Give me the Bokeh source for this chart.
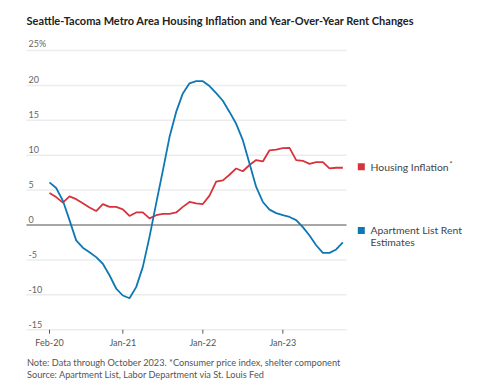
import pandas as pd
from bokeh.plotting import figure
from bokeh.models import Range1d
from bokeh.core.properties import value
from bokeh.embed import file_html
from bokeh.resources import INLINE

# ---- data ----
months = [d.strftime("%b-%y") for d in pd.date_range("2020-02-01", "2023-10-01", freq="MS")]
housing_inflation = [4.6, 4.0, 3.2, 4.1, 3.7, 3.1, 2.5, 2.0, 3.0, 2.6,
                     2.6, 2.25, 1.3, 1.8, 1.8, 0.95, 1.4, 1.6, 1.6, 1.8,
                     2.6, 3.3, 3.1, 3.0, 4.2, 6.2, 6.4, 7.2, 8.1, 7.7,
                     8.6, 9.3, 9.1, 10.7, 10.8, 11.0, 11.05, 9.3, 9.2, 8.75,
                     9.0, 9.0, 8.1, 8.2, 8.2]
apartment_list = [6.1, 5.3, 3.5, 0.7, -2.2, -3.25, -3.9, -4.6, -5.55, -7.2,
                  -9.1, -10.1, -10.5, -8.9, -6.0, -1.7, 3.1, 7.8, 12.6, 16.2,
                  18.85, 20.3, 20.6, 20.6, 19.9, 18.9, 17.8, 16.2, 14.5, 12.15,
                  8.8, 5.45, 3.3, 2.2, 1.7, 1.4, 1.15, 0.7, -0.3, -1.5,
                  -2.9, -4.0, -4.0, -3.5, -2.5]
x_tick_labels = ["Feb-20", "Jan-21", "Jan-22", "Jan-23"]
y_ticks = [-15, -10, -5, 0, 5, 10, 15, 20, 25]
y_tick_labels = ["-15", "-10", "-5", "0", "5", "10", "15", "20", "25%"]

title_text = "Seattle-Tacoma Metro Area Housing Inflation and Year-Over-Year Rent Changes"
note_text = "Note: Data through October 2023. *Consumer price index, shelter component"
source_text = "Source: Apartment List, Labor Department via St. Louis Fed"
series_names = ["Housing Inflation", "Apartment List Rent", "Estimates"]

RED = "#d7333e"
BLUE = "#0e78b4"
FONT = "Lato"

# ---- layout (whole canvas is the plotting frame) ----
W, H = 480, 386
PX_PER_MONTH = 6.667
PX_PER_PCT = 6.98
X0_PX = 49.0       # canvas x of first month
Y0_PX = 224.5      # canvas y (from top) of 0%
x_start = -X0_PX / PX_PER_MONTH
x_end = x_start + W / PX_PER_MONTH
y_end = Y0_PX / PX_PER_PCT
y_start = y_end - H / PX_PER_PCT

def dx(px):   # canvas px -> data x
    return x_start + px / PX_PER_MONTH

def dy(py):   # canvas px (from top) -> data y
    return y_end - py / PX_PER_PCT

x = list(range(len(months)))
grid_x0 = x[0] - 3.45
grid_x1 = x[-1] + 0.55

p = figure(width=W, height=H, output_backend="svg", toolbar_location=None,
           x_range=Range1d(x_start, x_end), y_range=Range1d(y_start, y_end),
           x_axis_location=None, y_axis_location=None,
           min_border=0, min_border_left=0, min_border_right=0,
           min_border_top=0, min_border_bottom=0)
p.outline_line_color = None
p.xgrid.visible = False
p.ygrid.visible = False

# gridlines
p.segment(x0=[grid_x0] * len(y_ticks), x1=[grid_x1] * len(y_ticks), y0=y_ticks, y1=y_ticks,
          line_color="#ececec", line_width=1.5)
p.segment(x0=[grid_x0], x1=[grid_x1], y0=[0], y1=[0], line_color="#8c8c8c", line_width=1.5)

# y tick labels
p.text(x=[grid_x0] * len(y_ticks), y=y_ticks, text=y_tick_labels, x_offset=2, y_offset=-2,
       text_baseline="bottom", text_align="left", text_font=value(FONT),
       text_font_size="9px", text_color="#666666")

# x ticks + labels
tick_pos = [months.index(t) for t in x_tick_labels]
y_bottom = min(y_ticks)
p.segment(x0=tick_pos, x1=tick_pos, y0=[y_bottom] * len(tick_pos),
          y1=[y_bottom - 4 / PX_PER_PCT] * len(tick_pos), line_color="#555555", line_width=1)
p.text(x=tick_pos, y=[y_bottom] * len(tick_pos), text=x_tick_labels, y_offset=12.5,
       text_baseline="middle", text_align="center", text_font=value(FONT),
       text_font_size="9px", text_color="#555555")

# lines
p.line(x, housing_inflation, line_color=RED, line_width=1.8)
p.line(x, apartment_list, line_color=BLUE, line_width=1.8)

# title and notes
p.text(x=[dx(26)], y=[dy(20)], text=[title_text], text_baseline="middle",
       text_font=value(FONT), text_font_style="bold", text_font_size="11px",
       text_color="#222222")
p.text(x=[dx(26.5), dx(26.5)], y=[dy(361.7), dy(374.3)], text=[note_text, source_text],
       text_baseline="middle", text_font=value(FONT), text_font_size="9.2px",
       text_color="#555555")

# legend
p.scatter(x=[dx(360.8), dx(360.8)], y=[dy(166.2), dy(230)], marker="square", size=7,
          fill_color=[RED, BLUE], line_color=None)
p.text(x=[dx(370)] * 3, y=[dy(166), dy(229.3), dy(241.7)], text=series_names,
       text_baseline="middle", text_font=value(FONT), text_font_size="10.4px",
       text_color="#444444")
p.text(x=[dx(449)], y=[dy(163)], text=["*"], text_baseline="middle",
       text_font=value(FONT), text_font_size="7px", text_color="#444444")

open("out.html", "w").write(file_html(p, INLINE))
